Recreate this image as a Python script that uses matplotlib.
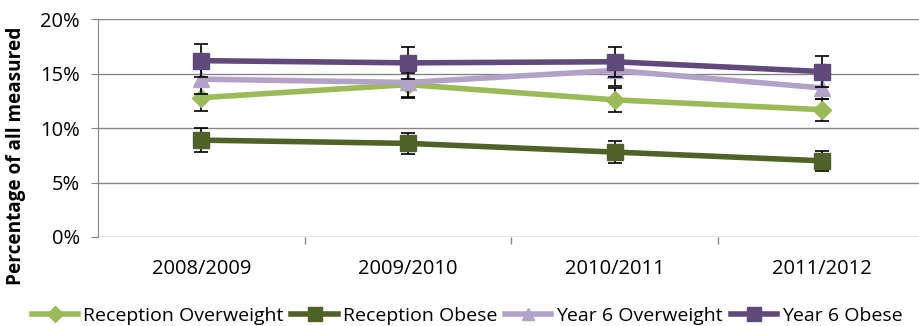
import matplotlib
matplotlib.use("Agg")
import matplotlib.pyplot as plt
from matplotlib.ticker import FuncFormatter

plt.rcParams['font.family'] = ['Open Sans', 'DejaVu Sans']

categories = ["2008/2009", "2009/2010", "2010/2011", "2011/2012"]
series_names = ["Reception Overweight", "Reception Obese", "Year 6 Overweight", "Year 6 Obese"]
reception_overweight = [12.8, 14.0, 12.6, 11.7]
reception_overweight_err = [1.2, 1.1, 1.1, 1.0]
reception_obese = [8.9, 8.6, 7.8, 7.0]
reception_obese_err = [1.1, 1.0, 1.0, 0.9]
year6_overweight = [14.5, 14.2, 15.3, 13.7]
year6_overweight_err = [1.4, 1.4, 1.4, 1.0]
year6_obese = [16.2, 16.0, 16.1, 15.2]
year6_obese_err = [1.5, 1.5, 1.4, 1.4]
yticks = [0, 5, 10, 15, 20]

colors = ["#9BBB59", "#4F6228", "#B3A2C7", "#604A7B"]
markers = ["D", "s", "^", "s"]
msizes = [9, 12, 11, 12]

fig = plt.figure(figsize=(9.19, 3.26), dpi=100)
W, H = 919, 326
ax = fig.add_axes([98 / W, 1 - 237 / H, (919 - 98) / W, (237 - 19.3) / H])

x = list(range(len(categories)))
data = [reception_overweight, reception_obese, year6_overweight, year6_obese]
errs = [reception_overweight_err, reception_obese_err, year6_overweight_err, year6_obese_err]
handles = []
for i, (vals, e) in enumerate(zip(data, errs)):
    ax.errorbar(x, vals, yerr=e, fmt='none', ecolor='black', elinewidth=1.2,
                capsize=5, capthick=1.2, zorder=2 + i)
    h, = ax.plot(x, vals, color=colors[i], lw=4, marker=markers[i], ms=msizes[i],
                 markeredgecolor=colors[i], zorder=3 + i, label=series_names[i])
    handles.append(h)

ax.set_ylim(0, 20)
ax.set_yticks(yticks)
ax.yaxis.set_major_formatter(FuncFormatter(lambda v, p: f"{int(v)}%"))
ax.set_xlim(-0.5, 3.5 - 6 / 207)
ax.set_xticks(x)
ax.set_xticklabels(categories)
ax.set_xticks([0.5, 1.5, 2.5], minor=True)
ax.tick_params(axis='x', which='major', length=0, pad=16, labelsize=14.5)
ax.tick_params(axis='x', which='minor', length=5, color='#868686', width=1)
ax.tick_params(axis='y', length=5, color='#868686', labelsize=14.5, pad=8)
ax.grid(axis='y', color='#868686', lw=1)
ax.set_axisbelow(True)
for s in ['top', 'right', 'bottom']:
    ax.spines[s].set_visible(False)
ax.spines['left'].set_color('#868686')
ax.set_ylabel("Percentage of all measured", fontsize=13.7, fontweight='bold')
ax.yaxis.set_label_coords(-72 / (919 - 98), 0.375)

fig.legend(handles=handles, loc='center left', bbox_to_anchor=(32 / W, 1 - 316 / H), ncol=4,
           frameon=False, fontsize=14, handlelength=2.37, handletextpad=0.26,
           columnspacing=0.41, borderaxespad=0, borderpad=0, markerscale=0.85)

fig.savefig("out.png", dpi=100)
